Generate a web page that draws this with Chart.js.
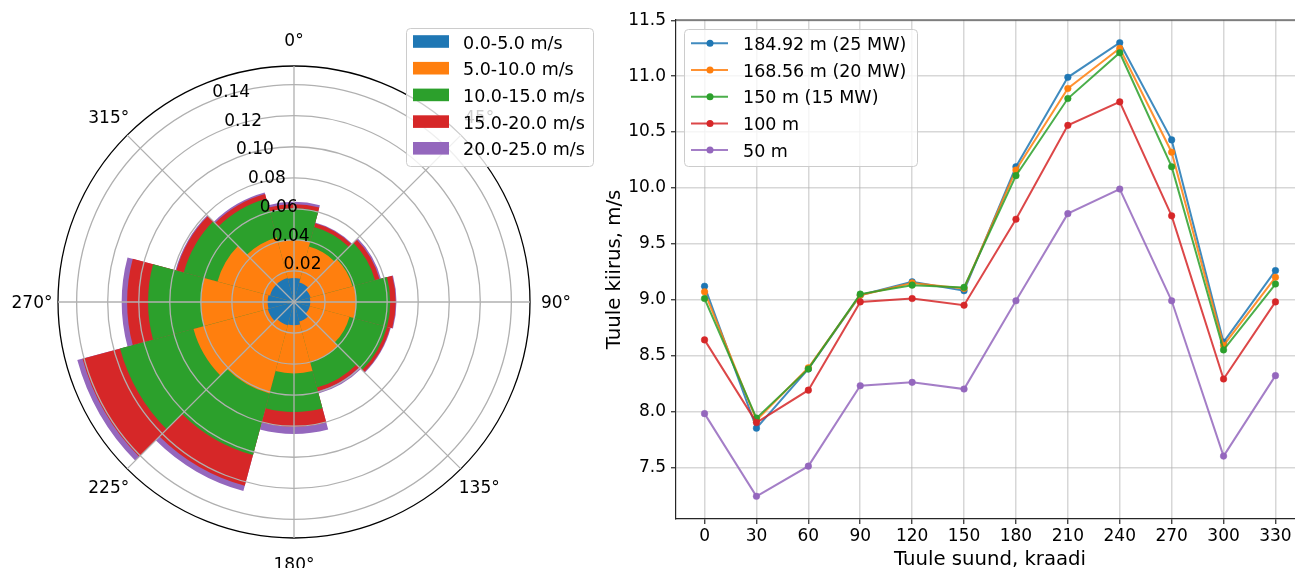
<!DOCTYPE html>
<html>
<head>
<meta charset="utf-8">
<title>Tuule roos ja tuule kiirus</title>
<script src="https://cdn.jsdelivr.net/npm/chart.js@4.4.1/dist/chart.umd.min.js"></script>
<style>
  html, body { margin: 0; padding: 0; background: #fff; overflow: hidden; }
  #wrap { position: relative; width: 1295px; height: 568px; overflow: hidden; }
  #rose { position: absolute; left: 0; top: 0; }
  #speed { position: absolute; left: 600px; top: 0; }
</style>
</head>
<body>
<div id="wrap">
  <canvas id="rose" width="600" height="568"></canvas>
  <canvas id="speed" width="720" height="580"></canvas>
</div>
<script>
// wind rose: sector centres (deg) and share of time per speed bin
var sectors = [0, 30, 60, 90, 120, 150, 180, 210, 240, 270, 300, 330];
var binLabels = ['0.0-5.0 m/s', '5.0-10.0 m/s', '10.0-15.0 m/s', '15.0-20.0 m/s', '20.0-25.0 m/s'];
var bin0_5   = [0.0155, 0.013, 0.011, 0.0105, 0.0105, 0.013, 0.015, 0.0155, 0.0175, 0.017, 0.016, 0.016];
var bin5_10  = [0.0245, 0.024, 0.028, 0.0295, 0.0265, 0.027, 0.031, 0.0455, 0.0495, 0.043, 0.035, 0.027];
var bin10_15 = [0.0204, 0.013, 0.015, 0.022, 0.025, 0.017, 0.0248, 0.041, 0.049, 0.034, 0.0225, 0.0258];
var bin15_20 = [0.0026, 0.0025, 0.003, 0.0035, 0.002, 0.0025, 0.0096, 0.0205, 0.025, 0.0135, 0.0049, 0.0032];
var bin20_25 = [0.0015, 0.0005, 0.001, 0.0005, 0.0005, 0.0015, 0.0046, 0.0035, 0.0035, 0.0035, 0.0006, 0.001];
var roseTicks = [0.02, 0.04, 0.06, 0.08, 0.10, 0.12, 0.14];
var compassTicks = [0, 45, 90, 135, 180, 225, 270, 315];

// mean wind speed per direction at each hub height
var directions = [0, 30, 60, 90, 120, 150, 180, 210, 240, 270, 300, 330];
var heightLabels = ['184.92 m (25 MW)', '168.56 m (20 MW)', '150 m (15 MW)', '100 m', '50 m'];
var h185 = [9.12, 7.85, 8.38, 9.04, 9.16, 9.08, 10.19, 10.99, 11.30, 10.43, 8.62, 9.26];
var h169 = [9.07, 7.92, 8.39, 9.04, 9.15, 9.10, 10.16, 10.89, 11.25, 10.32, 8.59, 9.20];
var h150 = [9.01, 7.94, 8.38, 9.05, 9.13, 9.11, 10.11, 10.80, 11.21, 10.19, 8.55, 9.14];
var h100 = [8.64, 7.90, 8.19, 8.98, 9.01, 8.95, 9.72, 10.56, 10.77, 9.75, 8.29, 8.98];
var h50  = [7.98, 7.24, 7.51, 8.23, 8.26, 8.20, 8.99, 9.77, 9.99, 8.99, 7.60, 8.32];
var speedTicks = [7.5, 8.0, 8.5, 9.0, 9.5, 10.0, 10.5, 11.0, 11.5];

var palette = ['#1f77b4', '#ff7f0e', '#2ca02c', '#d62728', '#9467bd'];
var FONT = '"DejaVu Sans", sans-serif';
var rMax = 0.152;

function fade(hex, a) {
  var n = parseInt(hex.slice(1), 16);
  return 'rgba(' + (n >> 16) + ',' + ((n >> 8) & 255) + ',' + (n & 255) + ',' + a + ')';
}

// rounded legend frame, half transparent like the matplotlib one
function legendFrame(ctx, x, y, w, h) {
  var r = 4;
  ctx.beginPath();
  ctx.moveTo(x + r, y);
  ctx.arcTo(x + w, y, x + w, y + h, r);
  ctx.arcTo(x + w, y + h, x, y + h, r);
  ctx.arcTo(x, y + h, x, y, r);
  ctx.arcTo(x, y, x + w, y, r);
  ctx.closePath();
  ctx.fillStyle = 'rgba(255,255,255,0.8)';
  ctx.fill();
  ctx.strokeStyle = '#cccccc';
  ctx.lineWidth = 1;
  ctx.stroke();
}

// stack the bins: each dataset holds the running total, smallest drawn last (on top)
var bins = [bin0_5, bin5_10, bin10_15, bin15_20, bin20_25];
var running = sectors.map(function () { return 0; });
var roseSets = bins.map(function (bin, i) {
  running = running.map(function (v, k) { return v + bin[k]; });
  return { label: binLabels[i], data: running.slice(), backgroundColor: palette[i], borderWidth: 0 };
});

var roseDecor = {
  id: 'roseDecor',
  afterDraw: function (chart) {
    var s = chart.scales.r, ctx = chart.ctx;
    var cx = s.xCenter, cy = s.yCenter, R = s.drawingArea;
    ctx.save();
    ctx.strokeStyle = '#b0b0b0';
    ctx.lineWidth = 1.3;
    compassTicks.forEach(function (deg) {
      var a = deg * Math.PI / 180;
      ctx.beginPath();
      ctx.moveTo(cx, cy);
      ctx.lineTo(cx + R * Math.sin(a), cy - R * Math.cos(a));
      ctx.stroke();
    });
    ctx.fillStyle = '#000';
    ctx.font = '17px ' + FONT;
    ctx.textAlign = 'center';
    ctx.textBaseline = 'middle';
    compassTicks.forEach(function (deg) {
      var a = deg * Math.PI / 180;
      ctx.fillText(deg + '°', cx + (R + 26) * Math.sin(a), cy - (R + 26) * Math.cos(a) + 1.5);
    });
    // radial labels sit along the 337.5° ray
    var la = -22.5 * Math.PI / 180;
    ctx.textAlign = 'left';
    ctx.textBaseline = 'bottom';
    roseTicks.forEach(function (v) {
      var d = s.getDistanceFromCenterForValue(v);
      ctx.fillText(v.toFixed(2), cx + d * Math.sin(la) + 1.5, cy - d * Math.cos(la));
    });
    // legend
    legendFrame(ctx, 406.5, 28.5, 187, 138);
    ctx.font = '17.5px ' + FONT;
    ctx.textBaseline = 'middle';
    binLabels.forEach(function (txt, i) {
      var y = 41.5 + i * 26.7;
      ctx.fillStyle = palette[i];
      ctx.fillRect(413, y - 6.3, 36, 12.6);
      ctx.fillStyle = '#000';
      ctx.fillText(txt, 463, y + 2.5);
    });
    ctx.restore();
  }
};

new Chart(document.getElementById('rose'), {
  type: 'polarArea',
  data: { labels: sectors.map(function (d) { return d + '°'; }), datasets: roseSets },
  options: {
    responsive: false,
    animation: false,
    events: [],
    layout: { padding: { left: 58, top: 66, right: 70, bottom: 30 } },
    plugins: { legend: { display: false }, tooltip: { enabled: false } },
    scales: {
      r: {
        min: 0,
        max: rMax,
        startAngle: -15,
        afterBuildTicks: function (scale) {
          scale.ticks = [0].concat(roseTicks, [rMax]).map(function (v) { return { value: v }; });
        },
        ticks: { display: false, z: 1 },
        // rings go over the bars
        grid: {
          z: 1,
          circular: true,
          color: function (c) { return c.tick && c.tick.value === rMax ? '#000' : '#b0b0b0'; },
          lineWidth: 1.3
        },
        angleLines: { display: false },
        pointLabels: { display: false }
      }
    }
  },
  plugins: [roseDecor]
});

// ---- speed by direction ----
var series = [h185, h169, h150, h100, h50];
var allSpeeds = [].concat(h185, h169, h150, h100, h50);
var yLo = Math.min.apply(null, allSpeeds), yHi = Math.max.apply(null, allSpeeds);
var yPad = (yHi - yLo) * 0.05;
var xPad = (directions[directions.length - 1] - directions[0]) * 0.05;

var lineSets = series.map(function (vals, i) {
  return {
    label: heightLabels[i],
    data: directions.map(function (d, k) { return { x: d, y: vals[k] }; }),
    borderColor: fade(palette[i], 0.85),
    backgroundColor: palette[i],
    pointBackgroundColor: palette[i],
    pointBorderColor: palette[i],
    pointBorderWidth: 0.5,
    pointRadius: 3.3,
    borderWidth: 2,
    tension: 0,
    order: series.length - i
  };
});

var speedDecor = {
  id: 'speedDecor',
  afterDraw: function (chart) {
    var ctx = chart.ctx, a = chart.chartArea;
    ctx.save();
    ctx.strokeStyle = '#262626';
    ctx.lineWidth = 1.2;
    ctx.beginPath();
    ctx.moveTo(a.left, a.top);
    ctx.lineTo(a.right, a.top);
    ctx.lineTo(a.right, a.bottom);
    ctx.stroke();
    // legend
    legendFrame(ctx, 84.5, 29.5, 233, 137);
    ctx.font = '17.5px ' + FONT;
    ctx.textAlign = 'left';
    ctx.textBaseline = 'middle';
    heightLabels.forEach(function (txt, i) {
      var y = 43.3 + i * 26.7;
      ctx.strokeStyle = fade(palette[i], 0.85);
      ctx.lineWidth = 2;
      ctx.beginPath();
      ctx.moveTo(91, y);
      ctx.lineTo(128, y);
      ctx.stroke();
      ctx.fillStyle = palette[i];
      ctx.beginPath();
      ctx.arc(110, y, 3.5, 0, Math.PI * 2);
      ctx.fill();
      ctx.fillStyle = '#000';
      ctx.fillText(txt, 143, y + 2);
    });
    ctx.restore();
  }
};

var tickFont = { family: FONT, size: 17 };
var titleFont = { family: FONT, size: 19.7 };
var gridColor = 'rgba(176,176,176,0.5)';

new Chart(document.getElementById('speed'), {
  type: 'line',
  data: { datasets: lineSets },
  options: {
    responsive: false,
    animation: false,
    events: [],
    layout: { padding: { top: 20, right: 16, left: 0, bottom: 0 } },
    plugins: { legend: { display: false }, tooltip: { enabled: false } },
    scales: {
      x: {
        type: 'linear',
        min: directions[0] - xPad,
        max: directions[directions.length - 1] + xPad,
        afterBuildTicks: function (scale) {
          scale.ticks = directions.map(function (v) { return { value: v }; });
        },
        afterFit: function (scale) { scale.height = 61; },
        ticks: { font: tickFont, color: '#000', padding: 2, maxRotation: 0, callback: function (v) { return String(v); } },
        grid: { color: gridColor, lineWidth: 1.5, tickLength: 5, tickColor: '#262626', tickWidth: 1.2 },
        border: { color: '#262626', width: 1.2 },
        title: { display: true, text: 'Tuule suund, kraadi', font: titleFont, color: '#000', padding: { top: 0, bottom: 8 } }
      },
      y: {
        type: 'linear',
        min: yLo - yPad,
        max: yHi + yPad,
        afterBuildTicks: function (scale) {
          scale.ticks = speedTicks.map(function (v) { return { value: v }; });
        },
        afterFit: function (scale) { scale.width = 76; },
        ticks: { font: tickFont, color: '#000', padding: 5, callback: function (v) { return v.toFixed(1); } },
        grid: { color: gridColor, lineWidth: 1.5, tickLength: 5, tickColor: '#262626', tickWidth: 1.2 },
        border: { color: '#262626', width: 1.2 },
        title: { display: true, text: 'Tuule kiirus, m/s', font: titleFont, color: '#000', padding: { top: 3, bottom: 0 } }
      }
    }
  },
  plugins: [speedDecor]
});
</script>
</body>
</html>
